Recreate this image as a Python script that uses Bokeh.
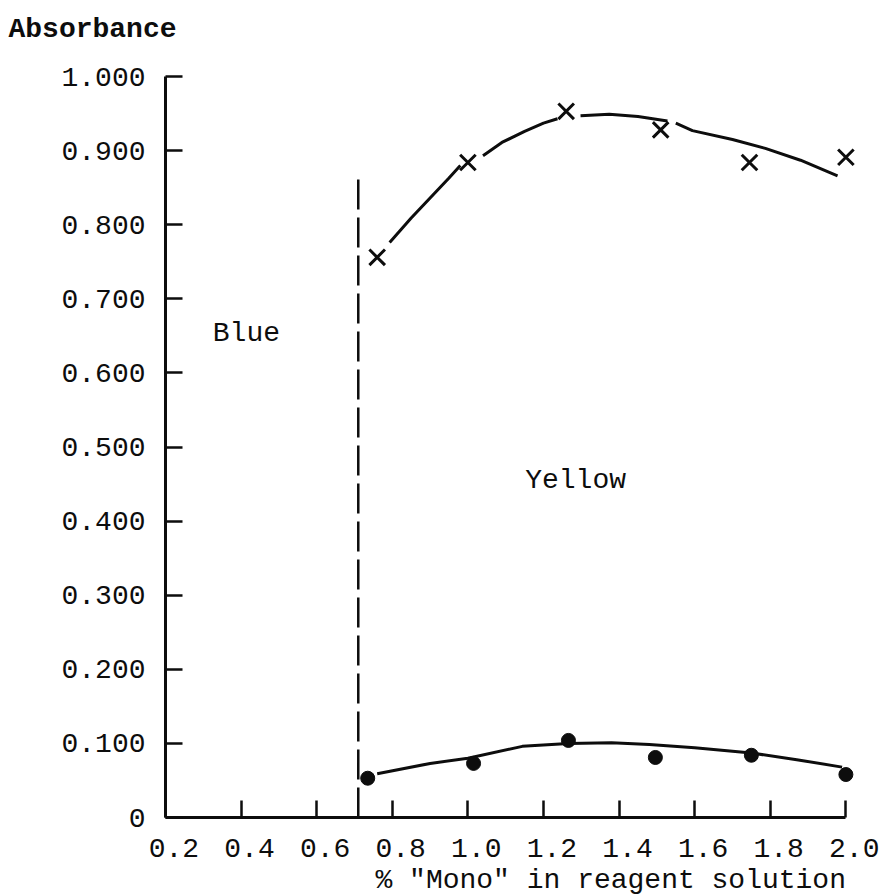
from bokeh.plotting import figure
from bokeh.models import Range1d, FixedTicker, Label, Title
from bokeh.embed import file_html
from bokeh.resources import INLINE

# ---------------- data ----------------
x_ticks = [0.2, 0.4, 0.6, 0.8, 1.0, 1.2, 1.4, 1.6, 1.8, 2.0]
x_tick_labels = ["0.2", "0.4", "0.6", "0.8", "1.0", "1.2", "1.4", "1.6", "1.8", "2.0"]
y_ticks = [0, 0.1, 0.2, 0.3, 0.4, 0.5, 0.6, 0.7, 0.8, 0.9, 1.0]
y_tick_labels = ["0", "0.100", "0.200", "0.300", "0.400", "0.500",
                 "0.600", "0.700", "0.800", "0.900", "1.000"]

# colour-change boundary (dashed line)
boundary_x = [0.71, 0.71]
boundary_y = [0.0, 0.864]

# crosses (upper series)
cross_x = [0.76, 1.00, 1.26, 1.51, 1.745, 2.00]
cross_y = [0.756, 0.884, 0.953, 0.928, 0.884, 0.891]

# dots (lower series)
dot_x = [0.735, 1.015, 1.266, 1.496, 1.75, 2.00]
dot_y = [0.053, 0.073, 0.104, 0.081, 0.084, 0.058]

nan = float("nan")
# hand-drawn curve through the crosses (gaps where the pen lifted)
upper_curve_x = [0.793, 0.85, 0.90, 0.95, 0.98, nan,
                 1.04, 1.09, 1.15, 1.20, 1.237, nan,
                 1.298, 1.374, 1.45, 1.528, nan,
                 1.55, 1.594, 1.70, 1.787, 1.88, 1.978]
upper_curve_y = [0.776, 0.809, 0.836, 0.863, 0.880, nan,
                 0.893, 0.911, 0.926, 0.937, 0.943, nan,
                 0.947, 0.949, 0.946, 0.940, nan,
                 0.937, 0.927, 0.915, 0.903, 0.887, 0.866]

# hand-drawn curve through the dots
lower_curve_x = [0.76, 0.90, 1.00, 1.144, 1.266, 1.38, 1.48, 1.60, 1.75, 1.87, 1.99]
lower_curve_y = [0.059, 0.073, 0.080, 0.096, 0.100, 0.101, 0.0985, 0.094, 0.087, 0.078, 0.068]

FONT = "Liberation Mono"
INK = "#0d0d0d"

p = figure(width=880, height=895, output_backend="svg", toolbar_location=None,
           x_range=Range1d(0.2, 2.081), y_range=Range1d(0.0, 1.0405),
           min_border_left=165, min_border_right=4,
           min_border_top=46, min_border_bottom=78)
p.outline_line_color = None
p.grid.visible = False
p.background_fill_color = "white"
p.border_fill_color = "white"

for ax, ticks, labels in ((p.xaxis[0], x_ticks, x_tick_labels),
                          (p.yaxis[0], y_ticks, y_tick_labels)):
    ax.ticker = FixedTicker(ticks=ticks)
    ax.axis_line_width = 3
    ax.axis_line_color = INK
    ax.major_tick_line_width = 2.5
    ax.major_tick_line_color = INK
    ax.major_tick_in = 17
    ax.major_tick_out = 0
    ax.minor_tick_line_color = None
    ax.major_label_text_font = FONT
    ax.major_label_text_font_size = "28px"
    ax.major_label_text_color = INK

p.xaxis[0].bounds = (0.2, 2.0)
p.yaxis[0].bounds = (0.0, 1.0)
p.xaxis[0].major_label_overrides = {t: "\u00a0" + s for t, s in zip(x_ticks, x_tick_labels)}
p.yaxis[0].major_label_overrides = {t: s for t, s in zip(y_ticks, y_tick_labels)}
p.xaxis[0].major_label_standoff = 16
p.yaxis[0].major_label_standoff = 20

# y-axis heading (top left) and x-axis title (bottom)
p.title = Title(text="Absorbance", align="left", offset=-157, standoff=3,
                text_font=FONT, text_font_size="28px", text_font_style="bold",
                text_color=INK)
p.add_layout(Title(text="% \"Mono\" in reagent solution", align="left", offset=210,
                   standoff=-6, vertical_align="top", text_font=FONT,
                   text_font_size="28px", text_font_style="normal",
                   text_color=INK), "below")

# boundary
p.line(boundary_x, boundary_y, line_color=INK, line_width=2.5, line_dash="30 8")

# curves
p.line(upper_curve_x, upper_curve_y, line_color=INK, line_width=3)
p.line(lower_curve_x, lower_curve_y, line_color=INK, line_width=3)

# points
p.scatter(cross_x, cross_y, marker="x", size=22, line_color=INK, line_width=3)
p.scatter(dot_x, dot_y, marker="circle", size=14, fill_color=INK, line_color=INK)

def add_label(x, y, text):
    p.add_layout(Label(x=x, y=y, text=text, text_font=FONT, text_font_size="28px",
                       text_color=INK, text_align="center", text_baseline="middle"))

add_label(0.414, 0.653, "Blue")
add_label(1.285, 0.455, "Yellow")

open("out.html", "w").write(file_html(p, INLINE))
